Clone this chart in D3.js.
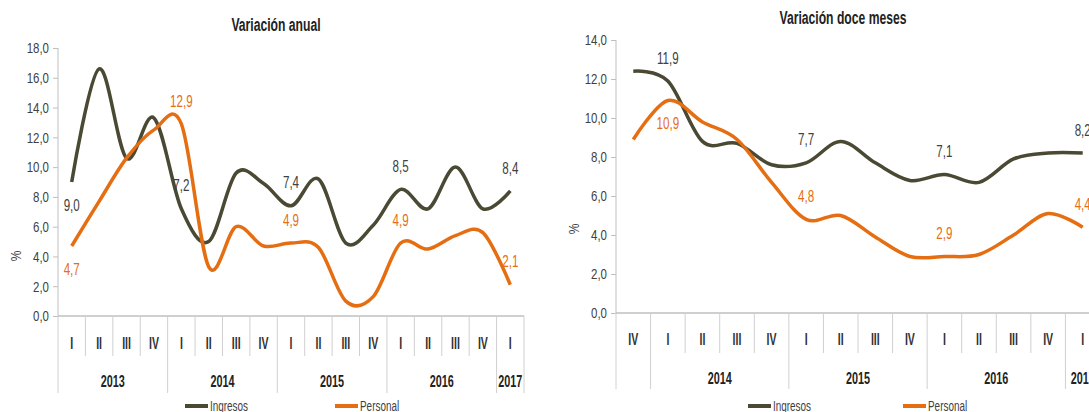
<!DOCTYPE html>
<html>
<head>
<meta charset="utf-8">
<script src="https://cdn.jsdelivr.net/npm/d3@7"></script>
<style>
  body { margin: 0; background: #fff; }
  svg text { font-family: "Liberation Sans", Arial, sans-serif; }
</style>
</head>
<body>
<svg width="1089" height="412"></svg>
<script>
// ---- data ----
var anualQuarters = ["I","II","III","IV","I","II","III","IV","I","II","III","IV","I","II","III","IV","I"];
var anualYears = [["2013",4],["2014",4],["2015",4],["2016",4],["2017",1]];
var anualIngresos = [9.0,16.6,10.6,13.3, 7.2,5.0,9.6,8.9, 7.4,9.2,4.9,6.1, 8.5,7.2,10.0,7.2, 8.4];
var anualPersonal = [4.7,7.7,10.6,12.5, 12.9,3.3,6.0,4.7, 4.9,4.6,1.0,1.3, 4.9,4.5,5.4,5.6, 2.1];

var doceQuarters = ["IV","I","II","III","IV","I","II","III","IV","I","II","III","IV","I"];
var doceYears = [["",1],["2014",4],["2015",4],["2016",4],["2017",1]];
var doceIngresos = [12.4,11.9,8.8,8.7,7.6, 7.7,8.8,7.7,6.8, 7.1,6.7,7.9,8.2, 8.2];
var docePersonal = [8.9,10.9,9.8,8.9,6.7, 4.8,5.0,3.9,2.9, 2.9,3.0,4.0,5.1, 4.4];

// which points get a value label, and where (+1 above, -1 below)
var anualIngLabels = [[0,-1],[4,1],[8,1],[12,1],[16,1]];
var anualPerLabels = [[0,-1],[4,1],[8,1],[12,1],[16,1]];
var doceIngLabels = [[1,1],[5,1],[9,1],[13,1]];
var docePerLabels = [[1,-1],[5,1],[9,1],[13,1]];

var darkCol = "#4a4933", orangeCol = "#e66e12", axisCol = "#bfbfbf", textCol = "#404040";
var fmt = d3.formatLocale({decimal: ",", thousands: ".", grouping: [3], currency: ["", ""]}).format(".1f");

var svg = d3.select("svg");

// the source uses a narrow font, so squeeze each text to a share of its natural width
function squeeze(sel, k) {
  sel.each(function() {
    var w = this.getComputedTextLength();
    if (w > 0) d3.select(this).attr("textLength", w * k).attr("lengthAdjust", "spacingAndGlyphs");
  });
}

function chart(o) {
  var g = svg.append("g");
  var idx = d3.range(o.quarters.length);
  var x = d3.scaleBand().domain(idx).range([o.x0, o.x1]);
  var y = d3.scaleLinear().domain([0, o.ymax]).range([o.y0, o.y1]);

  g.append("text").attr("x", o.titleX).attr("y", o.titleY).attr("dy", "0.35em")
    .attr("text-anchor", "middle").attr("font-size", 18).attr("font-weight", "bold")
    .attr("fill", "#222").text(o.title).call(squeeze, 0.675);

  var yAxis = g.append("g").attr("transform", "translate(" + o.x0 + ",0)")
    .call(d3.axisLeft(y).tickValues(d3.range(0, o.ymax + 0.1, 2)).tickSize(5).tickPadding(4).tickFormat(fmt));
  yAxis.selectAll("path, line").attr("stroke", axisCol);
  yAxis.selectAll("text").attr("font-size", 15).attr("fill", textCol).call(squeeze, 0.765);
  yAxis.select(".domain").attr("d", "M0," + o.y1 + "V" + o.y0);

  g.append("text").attr("transform", "translate(" + o.pctX + "," + o.pctY + ") rotate(-90)")
    .attr("text-anchor", "middle").attr("dy", "0.35em").attr("font-size", 15).attr("fill", textCol)
    .text("%").call(squeeze, 0.8);

  // category axis
  g.append("line").attr("x1", o.x0).attr("x2", o.x1).attr("y1", y(0)).attr("y2", y(0))
    .attr("stroke", axisCol).attr("stroke-width", 1.5);
  var yearStarts = [0], acc = 0;
  o.years.forEach(function(d) { acc += d[1]; yearStarts.push(acc); });
  d3.range(o.quarters.length + 1).forEach(function(i) {
    var big = yearStarts.indexOf(i) >= 0;
    var xx = i < o.quarters.length ? x(i) : o.x1;
    g.append("line").attr("x1", xx).attr("x2", xx).attr("y1", y(0))
      .attr("y2", big ? o.yearSepY : o.qSepY).attr("stroke", "#d0d0d0");
  });
  g.selectAll(".q").data(o.quarters).enter().append("text")
    .attr("x", function(d, i) { return x(i) + x.bandwidth() / 2; }).attr("y", o.qY).attr("dy", "0.35em")
    .attr("text-anchor", "middle").attr("font-size", 17).attr("font-weight", "bold").attr("fill", "#333")
    .text(function(d) { return d; }).call(squeeze, 0.62);
  o.years.forEach(function(d, k) {
    var a = x(yearStarts[k]), b = yearStarts[k + 1] < o.quarters.length ? x(yearStarts[k + 1]) : o.x1;
    g.append("text").attr("x", (a + b) / 2).attr("y", o.yearY).attr("dy", "0.35em")
      .attr("text-anchor", "middle").attr("font-size", 16.5).attr("font-weight", "bold").attr("fill", "#222")
      .text(d[0]).call(squeeze, 0.655);
  });

  var line = d3.line().curve(d3.curveCardinal.tension(0))
    .x(function(d, i) { return x(i) + x.bandwidth() / 2; }).y(function(d) { return y(d); });
  [[o.ing, darkCol, o.ingLabels], [o.per, orangeCol, o.perLabels]].forEach(function(s) {
    g.append("path").datum(s[0]).attr("d", line).attr("fill", "none")
      .attr("stroke", s[1]).attr("stroke-width", 3.5).attr("stroke-linejoin", "round");
    s[2].forEach(function(l) {
      var i = l[0];
      g.append("text").attr("x", x(i) + x.bandwidth() / 2).attr("y", y(s[0][i]) - l[1] * 23)
        .attr("dy", "0.35em").attr("text-anchor", "middle").attr("font-size", 16)
        .attr("fill", s[1] === darkCol ? textCol : orangeCol).text(fmt(s[0][i])).call(squeeze, 0.725);
    });
  });

  // legend
  [["Ingresos", darkCol, o.legX[0]], ["Personal", orangeCol, o.legX[1]]].forEach(function(d) {
    g.append("line").attr("x1", d[2]).attr("x2", d[2] + 23).attr("y1", o.legY).attr("y2", o.legY)
      .attr("stroke", d[1]).attr("stroke-width", 4);
    g.append("text").attr("x", d[2] + 25).attr("y", o.legY).attr("dy", "0.35em")
      .attr("font-size", 15.5).attr("fill", textCol).text(d[0]).call(squeeze, 0.64);
  });
}

chart({
  title: "Variación anual", titleX: 276, titleY: 25,
  quarters: anualQuarters, years: anualYears, ing: anualIngresos, per: anualPersonal,
  ingLabels: anualIngLabels, perLabels: anualPerLabels,
  x0: 58, x1: 524, y0: 316, y1: 48, ymax: 18,
  qY: 343, qSepY: 356, yearY: 381, yearSepY: 393,
  pctX: 16, pctY: 256, legX: [185, 335], legY: 406
});

chart({
  title: "Variación doce meses", titleX: 843, titleY: 18,
  quarters: doceQuarters, years: doceYears, ing: doceIngresos, per: docePersonal,
  ingLabels: doceIngLabels, perLabels: docePerLabels,
  x0: 616, x1: 1100, y0: 313, y1: 40, ymax: 14,
  qY: 339, qSepY: 353, yearY: 378, yearSepY: 389,
  pctX: 574, pctY: 229, legX: [748, 903], legY: 406
});
</script>
</body>
</html>
